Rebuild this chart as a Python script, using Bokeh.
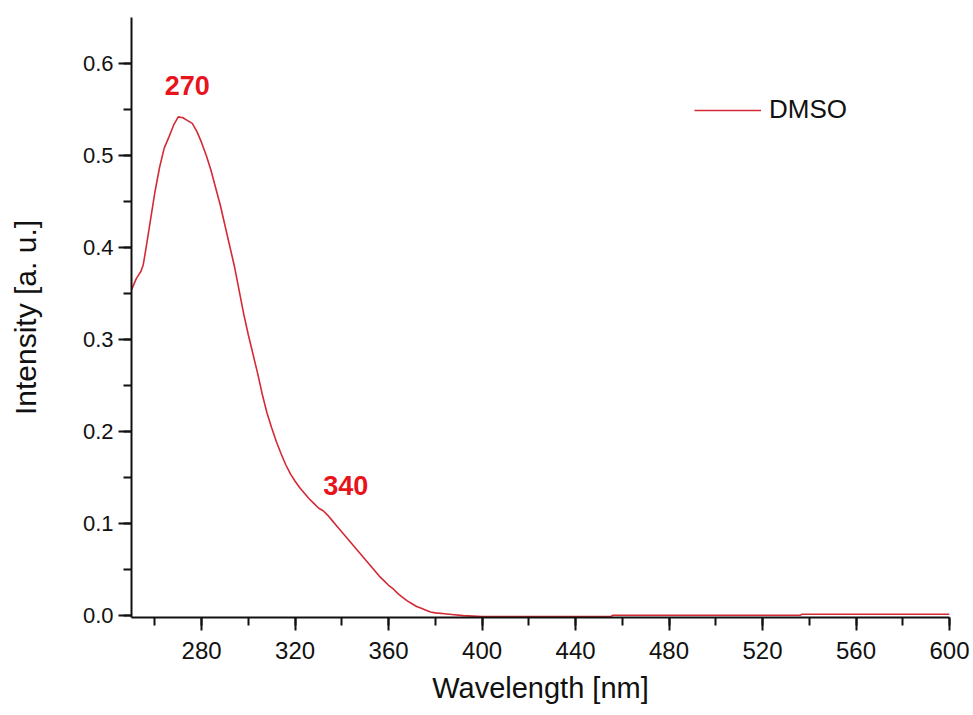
from bokeh.plotting import figure
from bokeh.models import (Range1d, SingleIntervalTicker, NumeralTickFormatter,
                          Legend, LegendItem, Title)
from bokeh.core.properties import value
from bokeh.embed import file_html
from bokeh.resources import INLINE
import numpy as np

# Absorption spectrum in DMSO
wavelength = [250, 251, 252, 253, 254, 255, 256, 257, 258, 259, 260, 262, 264,
              266, 268, 270, 272, 274, 276, 278, 280, 282, 284, 286, 288, 290,
              292, 294, 296, 298, 300, 302, 304, 306, 308, 310, 312, 314, 316,
              318, 320, 322, 324, 326, 328, 330, 332, 334, 336, 338, 340, 342,
              344, 346, 348, 350, 352, 354, 356, 358, 360, 362, 364, 366, 368,
              370, 372, 374, 376, 378, 380, 384, 388, 392, 400, 420, 440, 455,
              456, 480, 500, 520, 536, 537, 560, 580, 600]
intensity = [0.354, 0.360, 0.366, 0.370, 0.374, 0.381, 0.396, 0.412, 0.428,
             0.444, 0.460, 0.487, 0.508, 0.520, 0.533, 0.542, 0.541, 0.538,
             0.535, 0.526, 0.514, 0.500, 0.484, 0.465, 0.446, 0.424, 0.402,
             0.380, 0.354, 0.328, 0.305, 0.284, 0.263, 0.240, 0.220, 0.204,
             0.189, 0.176, 0.164, 0.154, 0.146, 0.139, 0.133, 0.127, 0.122,
             0.117, 0.114, 0.109, 0.103, 0.097, 0.091, 0.085, 0.079, 0.073,
             0.067, 0.061, 0.055, 0.049, 0.043, 0.038, 0.033, 0.029, 0.024,
             0.020, 0.016, 0.013, 0.010, 0.008, 0.006, 0.004, 0.003, 0.002,
             0.001, 0.000, -0.001, -0.001, -0.001, -0.001, 0.0005, 0.0005,
             0.0005, 0.0005, 0.0005, 0.0015, 0.0015, 0.0015, 0.0015]
series_name = "DMSO"
band_labels = [270, 340]
x_title = "Wavelength [nm]"
y_title = "Intensity [a. u.]"

FONT = "Liberation Sans"
LINE_COLOR = "#d42a35"
LABEL_COLOR = "#e8141c"
INK = "#111111"

p = figure(width=973, height=715, output_backend="svg", toolbar_location=None,
           x_range=Range1d(250, 600), y_range=Range1d(-0.002, 0.65),
           min_border_left=131, min_border_right=24,
           min_border_top=17, min_border_bottom=98)
p.outline_line_color = None
p.xgrid.grid_line_color = None
p.ygrid.grid_line_color = None
p.background_fill_color = "white"
p.border_fill_color = "white"

curve = p.line(wavelength, intensity, line_color=LINE_COLOR, line_width=1.6)

# Band annotations above the peak and the shoulder
label_y = [float(np.interp(b, wavelength, intensity)) for b in band_labels]
label_style = dict(text_font=value(FONT), text_font_style="bold",
                   text_font_size="27px", text_color=LABEL_COLOR,
                   text_align="center", text_baseline="middle")
p.text(x=[band_labels[0]], y=[label_y[0]], text=[str(band_labels[0])],
       x_offset=9, y_offset=-31, **label_style)
p.text(x=[band_labels[1]], y=[label_y[1]], text=[str(band_labels[1])],
       x_offset=4, y_offset=-46, **label_style)

# Axes
p.xaxis.ticker = SingleIntervalTicker(interval=40, num_minor_ticks=2)
p.yaxis.ticker = SingleIntervalTicker(interval=0.1, num_minor_ticks=2)
p.yaxis.formatter = NumeralTickFormatter(format="0.0")
for ax in (p.xaxis, p.yaxis):
    ax.axis_line_width = 2
    ax.axis_line_color = INK
    ax.major_tick_line_width = 2
    ax.minor_tick_line_width = 2
    ax.major_tick_line_color = INK
    ax.minor_tick_line_color = INK
    ax.major_tick_out = 13
    ax.major_tick_in = 0
    ax.minor_tick_out = 8
    ax.minor_tick_in = 0
    ax.major_label_text_font = FONT
    ax.major_label_text_color = INK
p.xaxis.major_label_text_font_size = "24px"
p.yaxis.major_label_text_font_size = "22px"
p.xaxis.major_label_standoff = 11
p.yaxis.major_label_standoff = 5

p.yaxis.axis_label = y_title
p.yaxis.axis_label_text_font = FONT
p.yaxis.axis_label_text_font_size = "30px"
p.yaxis.axis_label_text_font_style = "normal"
p.yaxis.axis_label_text_color = INK
p.yaxis.axis_label_standoff = 38

# x title sits in its own panel below the axis
p.add_layout(Title(text=x_title, align="center", text_font=FONT,
                   text_font_size="29px", text_font_style="normal",
                   text_color=INK, standoff=17), "below")

legend = Legend(items=[LegendItem(label=series_name, renderers=[curve])],
                location=(563, 492), glyph_width=67, glyph_height=20,
                label_standoff=8, label_text_font=FONT,
                label_text_font_size="26px", label_text_color=INK,
                background_fill_alpha=0, border_line_color=None,
                padding=10, margin=0)
p.add_layout(legend)

open("out.html", "w").write(file_html(p, INLINE))
